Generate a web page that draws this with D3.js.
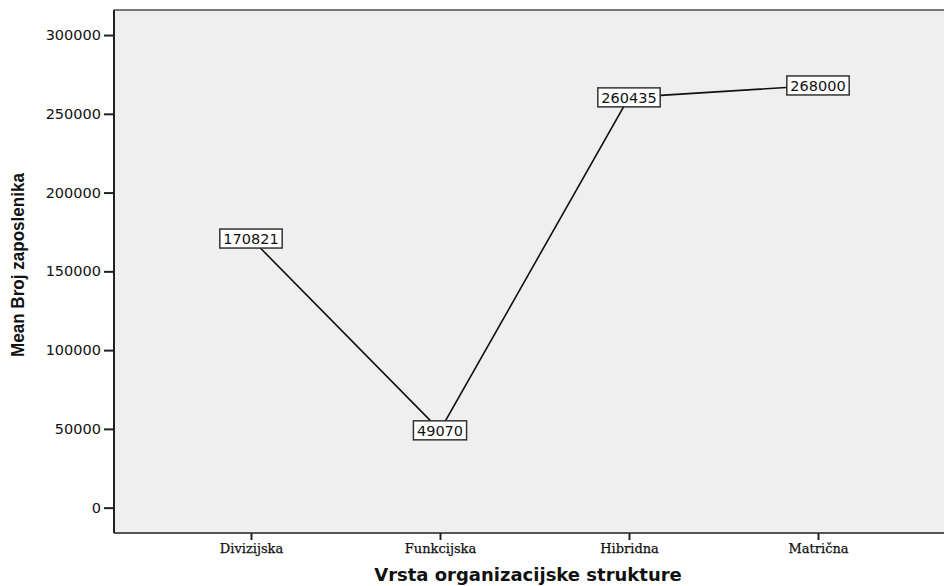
<!DOCTYPE html>
<html>
<head>
<meta charset="utf-8">
<script src="https://cdn.jsdelivr.net/npm/d3@7"></script>
<style>
  html, body { margin: 0; padding: 0; background: #ffffff; }
  svg { display: block; }
</style>
</head>
<body>
<svg id="chart" width="944" height="586"></svg>
<script>
// ---- data ----
const categories = ["Divizijska", "Funkcijska", "Hibridna", "Matrična"];
const meanValues = [170821, 49070, 260435, 268000];
const valueLabels = ["170821", "49070", "260435", "268000"];
const yTicks = [0, 50000, 100000, 150000, 200000, 250000, 300000];
const xTitle = "Vrsta organizacijske strukture";
const yTitle = "Mean Broj zaposlenika";

// ---- layout ----
const plot = { left: 114, top: 10, right: 946, bottom: 533 };

const svg = d3.select("#chart");

const x = d3.scalePoint()
  .domain(categories)
  .range([251, 818]);

const y = d3.scaleLinear()
  .domain([-16100, 315900])
  .range([plot.bottom, plot.top]);

// plot background
svg.append("rect")
  .attr("x", plot.left).attr("y", plot.top)
  .attr("width", plot.right - plot.left).attr("height", plot.bottom - plot.top)
  .attr("fill", "#efefef");

// top & bottom frame
svg.append("line")
  .attr("x1", plot.left).attr("x2", plot.right)
  .attr("y1", plot.top).attr("y2", plot.top)
  .attr("stroke", "#777").attr("stroke-width", 2);
svg.append("line")
  .attr("x1", plot.left).attr("x2", plot.right)
  .attr("y1", plot.bottom).attr("y2", plot.bottom)
  .attr("stroke", "#555").attr("stroke-width", 2);

// y axis
const yAxis = d3.axisLeft(y).tickValues(yTicks).tickSize(10).tickPadding(3)
  .tickFormat(d3.format("d"));
const gy = svg.append("g")
  .attr("transform", `translate(${plot.left},0)`)
  .call(yAxis);
gy.select(".domain").attr("d", `M0,${plot.top}V${plot.bottom}`)
  .attr("stroke", "#222").attr("stroke-width", 2);
gy.selectAll(".tick line").attr("stroke", "#222").attr("stroke-width", 2);
gy.selectAll(".tick text")
  .attr("font-family", "DejaVu Sans, Verdana, sans-serif")
  .attr("font-size", "14.5px")
  .attr("fill", "#111");

// x axis
const xAxis = d3.axisBottom(x).tickSize(7).tickPadding(4);
const gx = svg.append("g")
  .attr("transform", `translate(0,${plot.bottom})`)
  .call(xAxis);
gx.select(".domain").remove();
gx.selectAll(".tick line").attr("stroke", "#222").attr("stroke-width", 2);
gx.selectAll(".tick text")
  .attr("font-family", "DejaVu Serif, Liberation Serif, serif")
  .attr("font-size", "13px")
  .attr("fill", "#111")
  .attr("stroke", "#111")
  .attr("stroke-width", 0.25);

// line
const line = d3.line()
  .x((d, i) => x(categories[i]))
  .y(d => y(d));
svg.append("path")
  .datum(meanValues)
  .attr("d", line)
  .attr("fill", "none")
  .attr("stroke", "#111")
  .attr("stroke-width", 1.6);

// value label boxes
const lbl = svg.append("g").selectAll("g")
  .data(meanValues)
  .join("g")
  .attr("transform", (d, i) => `translate(${x(categories[i])},${y(d)})`);

lbl.each(function(d, i) {
  const g = d3.select(this);
  const t = g.append("text")
    .attr("text-anchor", "middle")
    .attr("dy", "0.37em")
    .attr("font-family", "DejaVu Sans, Verdana, sans-serif")
    .attr("font-size", "14.5px")
    .attr("fill", "#111")
    .text(valueLabels[i]);
  const bb = t.node().getBBox();
  g.insert("rect", "text")
    .attr("x", bb.x - 3.5).attr("y", -9.5)
    .attr("width", bb.width + 7).attr("height", 19)
    .attr("fill", "#ffffff")
    .attr("stroke", "#333")
    .attr("stroke-width", 1.5);
});

// axis titles
svg.append("text")
  .attr("x", 528).attr("y", 581)
  .attr("text-anchor", "middle")
  .attr("font-family", "DejaVu Sans, Verdana, sans-serif")
  .attr("font-weight", "bold")
  .attr("font-size", "18px")
  .attr("fill", "#111")
  .text(xTitle);

svg.append("text")
  .attr("transform", "translate(24,265) rotate(-90)")
  .attr("text-anchor", "middle")
  .attr("font-family", "Liberation Sans, Arial, sans-serif")
  .attr("font-weight", "bold")
  .attr("font-size", "18px")
  .attr("textLength", 184)
  .attr("lengthAdjust", "spacingAndGlyphs")
  .attr("fill", "#111")
  .text(yTitle);
</script>
</body>
</html>
